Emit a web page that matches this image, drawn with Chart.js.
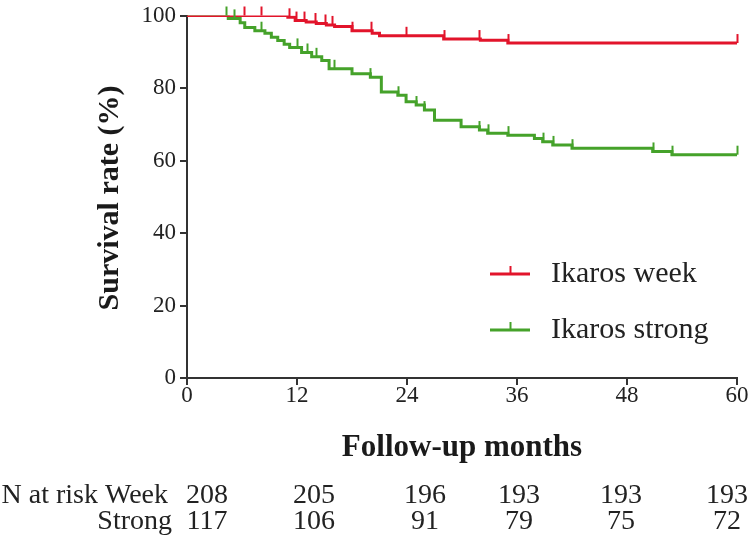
<!DOCTYPE html>
<html>
<head>
<meta charset="utf-8">
<script src="https://cdn.jsdelivr.net/npm/chart.js@4"></script>
<style>
  html, body { margin: 0; padding: 0; background: #fff; }
  #wrap { width: 750px; height: 541px; position: relative; }
</style>
</head>
<body>
<div id="wrap"><canvas id="kmChart" width="750" height="541"></canvas></div>
<script>
// Kaplan-Meier curves (months, survival %)
var weekMonths   = [0, 11.0, 11.8, 13.0, 14.1, 15.2, 16.1, 18.0, 20.2, 21.0, 28.0, 32.0, 35.0, 60];
var weekSurvival = [100, 99.5, 98.6, 98.2, 97.8, 97.4, 97.0, 95.8, 95.1, 94.4, 93.5, 93.2, 92.4, 92.4];
var weekCensored = [6.2, 8.1, 11.1, 11.9, 12.8, 14, 15, 15.8, 18, 20.1, 23.9, 28, 31.9, 35, 60];

var strongMonths   = [0, 4.5, 5.8, 6.3, 7.4, 8.5, 9.2, 9.9, 10.6, 11.2, 12.5, 13.6, 14.7, 15.5, 18, 20, 21.2, 23, 23.9, 25, 25.9, 27, 29.9, 31.9, 32.8, 35, 37.9, 38.8, 39.9, 42, 50.8, 52.9, 60];
var strongSurvival = [100, 99.2, 98, 96.7, 95.8, 95.1, 94, 93.1, 92.1, 91.2, 89.8, 88.6, 87.6, 85.3, 83.9, 83, 78.9, 78, 76.2, 75.3, 73.9, 71.1, 69.3, 68.4, 67.5, 67, 66.1, 65.2, 64.3, 63.4, 62.5, 61.6, 61.6];
var strongCensored = [4.2, 5.1, 8.1, 12, 13.1, 14.1, 16, 20, 23, 25, 25.9, 31.9, 32.8, 35, 38.8, 39.9, 42, 50.8, 52.9, 60];

var seriesNames = ['Ikaros week', 'Ikaros strong'];
var xTicks = [0, 12, 24, 36, 48, 60];
var yTicks = [0, 20, 40, 60, 80, 100];

// number at risk table
var riskLabels = ['N at risk Week', 'Strong'];
var riskWeek   = [208, 205, 196, 193, 193, 193];
var riskStrong = [117, 106, 91, 79, 75, 72];

var RED = '#e2142b';
var GREEN = '#45a22a';
var serif = '"Liberation Serif", "Times New Roman", serif';

function toPoints(xs, ys) {
    return xs.map(function (x, i) { return { x: x, y: ys[i] }; });
}

function survAt(xs, ys, t) {
    var v = ys[0];
    for (var i = 0; i < xs.length; i++) {
        if (xs[i] <= t) v = ys[i];
    }
    return v;
}

// censor marks, legend, titles and the risk table
var extrasPlugin = {
    id: 'kmExtras',
    afterDatasetsDraw: function (chart) {
        var ctx = chart.ctx;
        var xs = chart.scales.x, ys = chart.scales.y;
        var groups = [
            { months: strongMonths, surv: strongSurvival, cens: strongCensored, color: GREEN },
            { months: weekMonths, surv: weekSurvival, cens: weekCensored, color: RED }
        ];
        ctx.save();
        ctx.lineWidth = 2;
        groups.forEach(function (g) {
            ctx.strokeStyle = g.color;
            g.cens.forEach(function (t) {
                var px = Math.round(xs.getPixelForValue(t)) + 0.5;
                var py = ys.getPixelForValue(survAt(g.months, g.surv, t));
                ctx.beginPath();
                ctx.moveTo(px, py);
                ctx.lineTo(px, py - 9);
                ctx.stroke();
            });
        });

        // legend
        var legendY = [274, 330];
        [RED, GREEN].forEach(function (c, i) {
            ctx.strokeStyle = c;
            ctx.lineWidth = 3;
            ctx.beginPath();
            ctx.moveTo(490, legendY[i]);
            ctx.lineTo(530, legendY[i]);
            ctx.stroke();
            ctx.lineWidth = 2;
            ctx.beginPath();
            ctx.moveTo(510.5, legendY[i]);
            ctx.lineTo(510.5, legendY[i] - 8);
            ctx.stroke();
            ctx.fillStyle = '#222';
            ctx.font = '30px ' + serif;
            ctx.textAlign = 'left';
            ctx.textBaseline = 'middle';
            ctx.fillText(seriesNames[i], 551, legendY[i]);
        });

        // axis titles
        ctx.fillStyle = '#1a1a1a';
        ctx.font = 'bold 31px ' + serif;
        ctx.textAlign = 'center';
        ctx.textBaseline = 'middle';
        ctx.fillText('Follow-up months', 462, 448);
        ctx.font = 'bold 30px ' + serif;
        ctx.save();
        ctx.translate(110, 198);
        ctx.rotate(-Math.PI / 2);
        ctx.fillText('Survival rate (%)', 0, 0);
        ctx.restore();

        // risk table
        ctx.font = '28px ' + serif;
        ctx.fillStyle = '#222';
        ctx.textAlign = 'right';
        ctx.fillText(riskLabels[0], 168, 496);
        ctx.fillText(riskLabels[1], 172, 522);
        var colX = [207, 314, 425, 519, 621, 727];
        ctx.textAlign = 'center';
        riskWeek.forEach(function (n, i) { ctx.fillText(String(n), colX[i], 496); });
        riskStrong.forEach(function (n, i) { ctx.fillText(String(n), colX[i], 522); });
        ctx.restore();
    }
};

new Chart(document.getElementById('kmChart').getContext('2d'), {
    type: 'line',
    data: {
        datasets: [{
            label: seriesNames[0],
            data: toPoints(weekMonths, weekSurvival),
            borderColor: RED,
            borderWidth: 3,
            stepped: 'before',
            pointRadius: 0,
            fill: false,
            order: 0
        }, {
            label: seriesNames[1],
            data: toPoints(strongMonths, strongSurvival),
            borderColor: GREEN,
            borderWidth: 3,
            stepped: 'before',
            pointRadius: 0,
            fill: false,
            order: 1
        }]
    },
    options: {
        responsive: false,
        animation: false,
        layout: { padding: { left: 0, right: 13, top: 11, bottom: 0 } },
        plugins: { legend: { display: false }, tooltip: { enabled: false } },
        scales: {
            x: {
                type: 'linear',
                min: 0,
                max: 60,
                afterBuildTicks: function (s) { s.ticks = xTicks.map(function (v) { return { value: v }; }); },
                afterFit: function (s) { s.height = 163; },
                grid: { drawOnChartArea: false, drawTicks: true, tickLength: 7, color: '#333', lineWidth: 2 },
                border: { color: '#333', width: 2 },
                ticks: { color: '#222', font: { family: serif, size: 23, lineHeight: 1 }, padding: -1, maxRotation: 0 }
            },
            y: {
                min: 0,
                max: 100,
                afterBuildTicks: function (s) { s.ticks = yTicks.map(function (v) { return { value: v }; }); },
                afterFit: function (s) { s.width = 187; },
                grid: { drawOnChartArea: false, drawTicks: true, tickLength: 7, color: '#333', lineWidth: 2 },
                border: { color: '#333', width: 2 },
                ticks: { color: '#222', font: { family: serif, size: 23, lineHeight: 1 }, padding: 4 }
            }
        }
    },
    plugins: [extrasPlugin]
});
</script>
</body>
</html>
